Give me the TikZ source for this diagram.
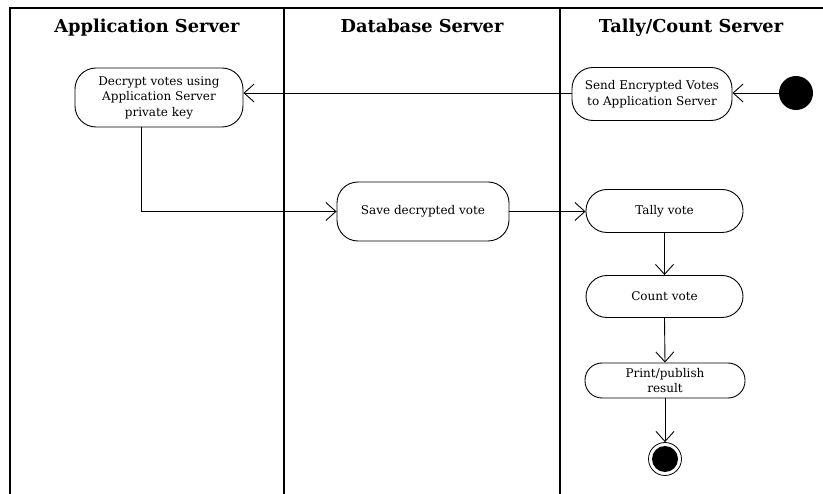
\documentclass[tikz,border=0pt]{standalone}
\usepackage{fontspec}
\setmainfont{DejaVu Serif}
\usetikzlibrary{arrows.meta}
\begin{document}
\begin{tikzpicture}[x=1pt,y=-1pt,
  act/.style={draw,line width=0.9pt,rounded corners=21pt,align=center,inner sep=0pt,font=\fontsize{12}{15.5}\selectfont},
  lane/.style={line width=1.4pt},
  title/.style={anchor=base,font=\fontsize{17.8}{20}\selectfont\bfseries},
  flow/.style={line width=0.9pt,-{Straight Barb[length=10pt,width=18pt,line width=0.9pt]}}]
\useasboundingbox (0,0) rectangle (823,494);
\fill[white] (0,0) rectangle (823,494);
% frame and lanes
\draw[lane] (10,494) -- (10,8) -- (823,8);
\draw[lane] (284,8) -- (284,494);
\draw[lane] (560,8) -- (560,494);
\node[title] (t1) at (147,33) {Application Server};
\node[title] (t2) at (422,33) {Database Server};
\node[title] (t3) at (691,33) {Tally/Count Server};
% nodes
\node[act,minimum width=168pt,minimum height=59pt] (dec) at (159,97.5) {Decrypt votes using\\Application Server\\private key};
\node[act,minimum width=160pt,minimum height=53pt] (send) at (652,94) {Send Encrypted Votes\\to Application Server};
\node[circle,fill=black,minimum size=34pt,inner sep=0pt] (start) at (796,93) {};
\node[act,minimum width=172pt,minimum height=59pt] (save) at (423,211.5) {Save decrypted vote};
\node[act,minimum width=157pt,minimum height=43pt] (tally) at (664.5,211) {Tally vote};
\node[act,minimum width=157pt,minimum height=42pt] (count) at (664.5,296.5) {Count vote};
\node[act,minimum width=160pt,minimum height=35pt,rounded corners=17pt] (print) at (665,380.5) {Print/publish\\result};
\node[circle,draw,line width=0.8pt,minimum size=33pt,inner sep=0pt] (end) at (665,459) {};
\node[circle,fill=black,minimum size=26pt,inner sep=0pt] (endin) at (end.center) {};
% connectors
\draw[flow] (start.west) -- (start.west -| send.east);
\draw[flow] (send.west |- start.west) -- (start.west -| dec.east);
\draw[flow] (dec.south -| 141,0) |- (save.west);
\draw[flow] (save.east) -- (save.east -| tally.west);
\draw[flow] (tally.south) -- (count.north);
\draw[flow] (count.south) -- (print.north);
\draw[flow] (print.south) -- (end.north);
\end{tikzpicture}
\end{document}
